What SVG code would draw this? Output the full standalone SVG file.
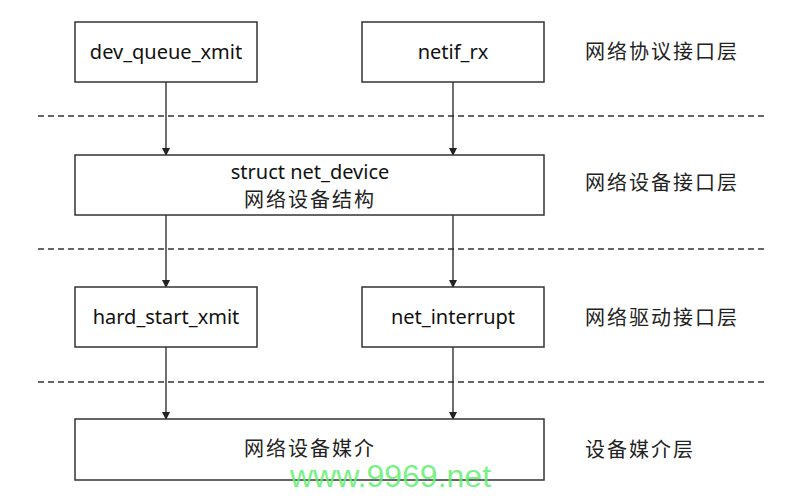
<svg xmlns="http://www.w3.org/2000/svg" width="788" height="500" viewBox="0 0 788 500">
<style>
.box{fill:#fff;stroke:#333;stroke-width:1.5}
.t{font-family:"Noto Sans","Open Sans","Noto Sans CJK SC",sans-serif;font-size:20px;fill:#111;text-anchor:middle}
.c{font-family:"Noto Sans CJK SC",sans-serif;font-size:20px;fill:#222;letter-spacing:2px}
.dash{stroke:#333;stroke-width:1.3;stroke-dasharray:6 4}
.arr{stroke:#222;stroke-width:1.3;fill:none;marker-end:url(#ah)}
</style>
<defs>
<marker id="ah" markerWidth="8" markerHeight="8" refX="7" refY="4" orient="auto" markerUnits="userSpaceOnUse">
<path d="M0,0 L8,4 L0,8 Z" fill="#222"/>
</marker>
</defs>
<rect width="788" height="500" fill="#fff"/>
<g id="separators">
<line class="dash" x1="38" y1="116" x2="766" y2="116"/>
<line class="dash" x1="38" y1="249" x2="766" y2="249"/>
<line class="dash" x1="38" y1="382" x2="766" y2="382"/>
</g>
<g id="connectors">
<line class="arr" x1="166" y1="82" x2="166" y2="155"/>
<line class="arr" x1="453" y1="82" x2="453" y2="155"/>
<line class="arr" x1="166" y1="215" x2="166" y2="287"/>
<line class="arr" x1="453" y1="215" x2="453" y2="287"/>
<line class="arr" x1="166" y1="347" x2="166" y2="419"/>
<line class="arr" x1="453" y1="347" x2="453" y2="419"/>
</g>
<g id="dev_queue_xmit">
<rect class="box" x="75" y="22" width="182" height="60"/>
<text class="t" x="166" y="59">dev_queue_xmit</text>
</g>
<g id="netif_rx">
<rect class="box" x="362" y="22" width="182" height="60"/>
<text class="t" x="453" y="59">netif_rx</text>
</g>
<g id="net_device">
<rect class="box" x="75" y="155" width="469" height="60"/>
<text class="t" x="310" y="179">struct net_device</text>
<text class="c" x="310" y="207" text-anchor="middle">网络设备结构</text>
</g>
<g id="hard_start_xmit">
<rect class="box" x="75" y="287" width="182" height="60"/>
<text class="t" x="166" y="324">hard_start_xmit</text>
</g>
<g id="net_interrupt">
<rect class="box" x="362" y="287" width="182" height="60"/>
<text class="t" x="453" y="324">net_interrupt</text>
</g>
<g id="media">
<rect class="box" x="75" y="419" width="469" height="61"/>
<text class="c" x="310" y="456" text-anchor="middle">网络设备媒介</text>
</g>
<g id="layers">
<text class="c" x="585" y="59">网络协议接口层</text>
<text class="c" x="585" y="190">网络设备接口层</text>
<text class="c" x="585" y="325">网络驱动接口层</text>
<text class="c" x="585" y="457">设备媒介层</text>
</g>
<text x="290" y="487" font-family="Liberation Sans, Arial, sans-serif" font-size="32" fill="#5fef6f" fill-opacity="0.85">www.9969.net</text>
</svg>
